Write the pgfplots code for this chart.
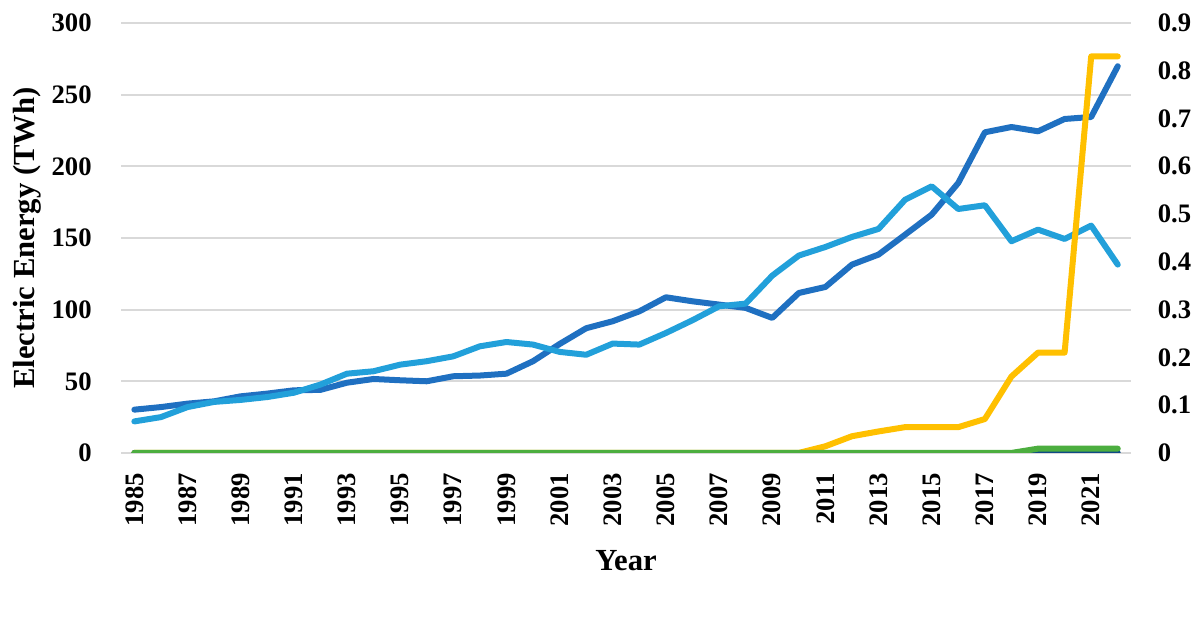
\documentclass[border=0pt]{standalone}
\usepackage{fontspec}
\setmainfont{Liberation Serif}
\usepackage{pgfplots}
\pgfplotsset{compat=1.18}
\definecolor{dblue}{HTML}{1F70C1}
\definecolor{lblue}{HTML}{22A0DA}
\definecolor{yel}{HTML}{FFC000}
\definecolor{grn}{HTML}{4CAE3F}
\definecolor{navy}{HTML}{0E4A86}
\definecolor{gridgray}{HTML}{D9D9D9}

\pgfplotstableread{
year dark light
1985 30.2 22
1986 32 25
1987 34.4 32
1988 36 35.6
1989 39.5 37
1990 41.4 39
1991 43.7 42
1992 44 47.7
1993 49 55.3
1994 51.6 57
1995 50.7 61.6
1996 50 64
1997 53.5 67.4
1998 54 74.4
1999 55.3 77.4
2000 64 75.6
2001 76 70.5
2002 87 68.5
2003 91.9 76.3
2004 98.8 75.6
2005 108.6 83.7
2006 105.8 92.6
2007 103.5 102.3
2008 101.2 104.2
2009 94.2 123.7
2010 111.6 137.7
2011 115.8 143.7
2012 131.4 150.7
2013 138.4 156.3
2014 152.3 176.7
2015 166.3 186
2016 188.4 170.2
2017 223.7 172.8
2018 227.4 147.7
2019 224.4 155.8
2020 233 149.3
2021 234.4 158.6
2022 269.8 131.4
}\lefttable

\pgfplotstableread{
year yellow navy green
1985 0 0 0
1986 0 0 0
1987 0 0 0
1988 0 0 0
1989 0 0 0
1990 0 0 0
1991 0 0 0
1992 0 0 0
1993 0 0 0
1994 0 0 0
1995 0 0 0
1996 0 0 0
1997 0 0 0
1998 0 0 0
1999 0 0 0
2000 0 0 0
2001 0 0 0
2002 0 0 0
2003 0 0 0
2004 0 0 0
2005 0 0 0
2006 0 0 0
2007 0 0 0
2008 0 0 0
2009 0 0 0
2010 0 0 0
2011 0.014 0 0
2012 0.035 0 0
2013 0.045 0 0
2014 0.054 0 0
2015 0.054 0 0
2016 0.054 0 0
2017 0.071 0 0
2018 0.16 0 0
2019 0.21 0 0.009
2020 0.21 0 0.009
2021 0.83 0 0.009
2022 0.83 0 0.009
}\righttable

\pgfplotsset{
  base/.style={
    scale only axis, width=378.75pt, height=161.25pt,
    xmin=1984.5, xmax=2022.5, ymin=0,
    axis line style={draw=none},
    major tick length=0pt,
    tick label style={font=\bfseries\fontsize{10}{12}\selectfont},
    /pgf/number format/assume math mode=true,
    every axis plot/.append style={line width=2.25pt, line join=round, line cap=round, mark=none},
  }
}

\begin{document}
\begin{tikzpicture}
\begin{axis}[base, name=main,
  ymax=300, ytick={0,50,...,300},
  ymajorgrids, grid style={draw=gridgray, line width=0.75pt},
  xtick={1985,1987,...,2021},
  xticklabel style={rotate=90, anchor=east, /pgf/number format/1000 sep={}},
  xticklabel shift=4pt,
  yticklabel shift=7.5pt,
  ylabel={Electric Energy (TWh)},
  xlabel={Year},
  every axis y label/.style={at={(axis description cs:-0.0925,0.5)}, rotate=90, anchor=center, font=\bfseries\fontsize{11.5}{14}\selectfont},
  every axis x label/.style={at={(axis description cs:0.5,-0.251)}, anchor=center, font=\bfseries\fontsize{11.5}{14}\selectfont},
]
\addplot[dblue] table[x=year, y=dark] {\lefttable};
\addplot[lblue] table[x=year, y=light] {\lefttable};
\end{axis}
\begin{axis}[base,
  ymax=0.9, axis y line*=right, axis x line=none,
  ytick={0,0.1,0.2,0.3,0.4,0.5,0.6,0.7,0.8,0.9},
  yticklabels={0,0.1,0.2,0.3,0.4,0.5,0.6,0.7,0.8,0.9},
  yticklabel shift=6.5pt,
]
\addplot[yel] table[x=year, y=yellow] {\righttable};
\addplot[navy] table[x=year, y=navy] {\righttable};
\addplot[grn] table[x=year, y=green] {\righttable};
\end{axis}
\pgfresetboundingbox
\path[use as bounding box] (main.south west) ++(-45.4pt,-66.4pt) rectangle ++(450pt,236.25pt);
\end{tikzpicture}
\end{document}
